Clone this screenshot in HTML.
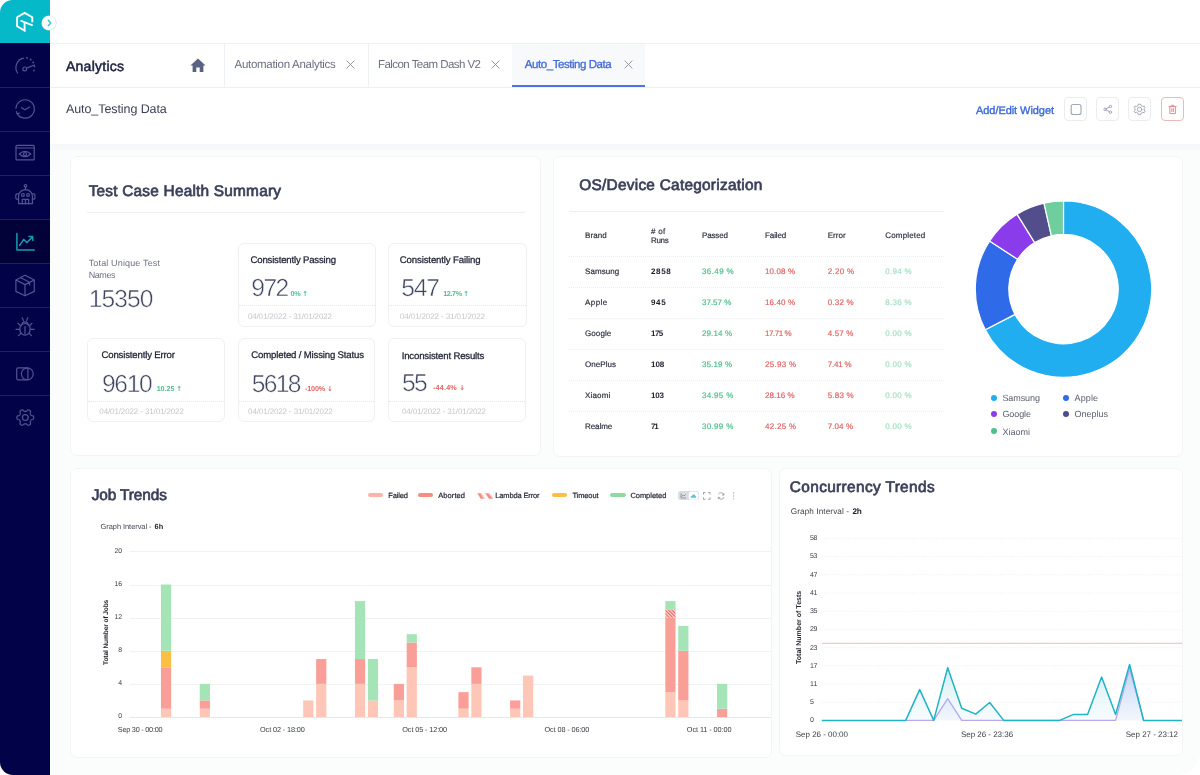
<!DOCTYPE html>
<html lang="en"><head><meta charset="utf-8"><title>Analytics - Auto_Testing Data</title>
<style>
*{box-sizing:border-box;margin:0;padding:0}
html,body{width:1200px;height:775px;overflow:hidden;background:#fff;font-family:"Liberation Sans",Arial,sans-serif;text-rendering:geometricPrecision}
.abs{position:absolute}
.t{position:absolute;white-space:nowrap;line-height:1}
.side{position:absolute;left:0;top:0;width:50px;height:775px;background:linear-gradient(#06b9c9 0,#06b9c9 43px,#020248 43px,#020248 100%);border-radius:12.5px 0 0 13px;overflow:hidden}
.side .brand{position:absolute;left:0;top:0;width:50px;height:43px}
.side .active{position:absolute;left:0;width:50px;height:43px;background:#020239}
.side .sep{position:absolute;left:0;width:50px;height:1px;background:#1f1f64}
.side .ico{position:absolute;left:0;top:0}
.toggle{position:absolute;left:42.2px;top:15.6px;width:14px;height:14px;border-radius:50%;background:#fff;box-shadow:0 0 0 0.6px #bfe6e6}
.top{position:absolute;left:50px;top:0;width:1150px;height:44px;border-bottom:1px solid #eff2f4}
.tabs{position:absolute;left:50px;top:44px;width:1150px;height:44px;border-bottom:1px solid #eef1f3}
.vsep{position:absolute;width:1px;height:43px;background:#eef1f3}
.tabactive{position:absolute;width:133px;height:43px;background:#f7f9fb;border-bottom:2.4px solid #4a74e8}
.sub{position:absolute;left:50px;top:88px;width:1150px;height:56px}
.ibtn{position:absolute;width:23px;height:24px;border:1px solid #eaecef;border-radius:4px;background:#fff}
.ibtn.red{border-color:#f1b6b6}
.ibtn svg{position:absolute;left:-1px;top:-1px}
.main{position:absolute;left:50px;top:144px;width:1150px;height:631px;background:#fbfcfc;border-radius:0 0 22px 0}
.band{position:absolute;left:50px;top:144px;width:1150px;height:6px;background:#f6f8f9}
.card{position:absolute;background:#fff;border:1px solid #f2f5f6;border-radius:7px}
.mini{position:absolute;background:#fff;border:1px solid #eef0f2;border-radius:6px}
.hr{position:absolute;height:1px;background:#eceff1}
.dot{position:absolute;height:0;border-top:1px dotted #e4e7eb}
.dot2{position:absolute;height:0;border-top:1px dotted #eceff1}
.ar{font-family:"DejaVu Sans",sans-serif;font-weight:bold;font-size:0.95em}
.pill{position:absolute;width:15.3px;height:4px;border-radius:2px}
.tgl{position:absolute;width:21px;height:9.5px;border-radius:2.5px;background:#d9dce1}
.tgl svg{position:absolute;left:0;top:0}
.ld{position:absolute;width:6px;height:6px;border-radius:50%}
</style></head>
<body>

<nav class="side">
  <div class="brand"></div>
  <div class="active" style="top:220px"></div>
  <div class="sep" style="top:87px"></div><div class="sep" style="top:131px"></div><div class="sep" style="top:175px"></div><div class="sep" style="top:219px"></div><div class="sep" style="top:263px"></div><div class="sep" style="top:307px"></div><div class="sep" style="top:351px"></div><div class="sep" style="top:395px"></div>
  <svg class="ico" width="50" height="775" viewBox="0 0 50 775" fill="none" stroke="#535392" stroke-width="1.2" stroke-linecap="round" stroke-linejoin="round">
    <!-- logo -->
    <g stroke="#fff" stroke-width="1.9" stroke-linecap="butt" stroke-linejoin="miter">
      <path d="M32.3 22.2 V17.3 L24.6 12.9 L17.1 17.3 V26.2 L24.6 30.5 V22"/>
      <path d="M32 25.1 L21.2 20.9" stroke-linecap="round"/>
    </g>
    <!-- gauge -->
    <path d="M17.6 73 A9.6 9.6 0 0 1 23.6 58.2"/>
    <path d="M26.7 57.8 A9.6 9.6 0 0 1 32.9 72.6" stroke-dasharray="0.6 3.4" stroke-width="1.5"/>
    <circle cx="24.7" cy="68.9" r="1.9"/><path d="M26.6 68.1 L34.4 65"/>
    <!-- clock -->
    <path d="M17.2 113.6 A9.2 9.2 0 1 0 16 108.2"/>
    <path d="M16.4 111.6 L17.3 114 L19.6 113"/>
    <path d="M21.3 107.6 L24.8 109.7 L29.6 107"/>
    <!-- eye window -->
    <rect x="16" y="145.3" width="18.2" height="14.6" rx="1"/><path d="M16 148 H34.2"/>
    <path d="M19.2 154 Q25 148.8 30.8 154 Q25 159.2 19.2 154Z"/><circle cx="25" cy="154" r="1.5"/>
    <!-- robot -->
    <circle cx="25.5" cy="185.8" r="1.3"/><path d="M25.5 187.1 V189.7"/>
    <path d="M18.6 203.7 V196 A6.85 6.3 0 0 1 32.4 196 V203.7 Z"/>
    <path d="M18.6 193.8 H17 A1.2 1.2 0 0 0 15.8 195 V198 A1.2 1.2 0 0 0 17 199.2 H18.6 M32.4 193.8 H33.7 A1.2 1.2 0 0 1 34.9 195 V198 A1.2 1.2 0 0 1 33.7 199.2 H32.4"/>
    <circle cx="22.9" cy="194.9" r="1.4"/><circle cx="28" cy="194.9" r="1.4"/>
    <path d="M22.3 203.7 V199.4 H28.6 V203.7 M25.45 199.4 V203.7"/>
    <!-- analytics (active) -->
    <g stroke="#1b9bb0" stroke-width="1.5"><path d="M16.9 233.4 V250 H34.3"/><path d="M19.6 245.4 L23.8 239.4 L26.9 242.6 L32.4 236.9 M28.9 236.4 L32.6 236.6 L32.9 240.5"/></g>
    <!-- box -->
    <path d="M25 275.2 L34.3 280 V291.4 L25 295.8 L15.9 291.4 V280 Z M15.9 280 L25 284.6 L34.3 280 M25 284.6 V295.8 M20.3 277.5 L29.6 282.3 V285"/>
    <!-- bug -->
    <ellipse cx="25" cy="329.3" rx="5.2" ry="5.8"/><path d="M21.8 324.6 A3.3 3.6 0 0 1 28.2 324.6 M23.3 320.6 L22.2 317.8 M26.7 320.6 L27.8 317.8 M16 329.3 H19.8 M30.2 329.3 H34.2 M18 323.3 L20.7 325.7 M32 323.3 L29.3 325.7 M18.5 335.6 L21 333.3 M31.5 335.6 L29 333.3 M25 326.4 V333.8"/>
    <!-- shapes -->
    <rect x="16.7" y="367.9" width="11.2" height="11.9" rx="1.2"/><circle cx="27.3" cy="373.85" r="5.95"/>
    <!-- gear -->
    <path d="M33.70 417.60 L33.67 418.33 L33.46 419.04 L32.35 419.49 L31.23 419.76 L30.92 420.22 L30.67 420.70 L30.38 421.16 L30.13 421.66 L30.46 422.76 L30.63 423.95 L30.12 424.48 L29.50 424.87 L28.85 425.21 L28.14 425.39 L27.19 424.65 L26.40 423.81 L25.84 423.78 L25.30 423.80 L24.76 423.78 L24.20 423.81 L23.41 424.65 L22.46 425.39 L21.75 425.21 L21.10 424.87 L20.48 424.48 L19.97 423.95 L20.14 422.76 L20.47 421.66 L20.22 421.16 L19.93 420.70 L19.68 420.22 L19.37 419.76 L18.25 419.49 L17.14 419.04 L16.93 418.33 L16.90 417.60 L16.93 416.87 L17.14 416.16 L18.25 415.71 L19.37 415.44 L19.68 414.98 L19.93 414.50 L20.22 414.04 L20.47 413.54 L20.14 412.44 L19.97 411.25 L20.48 410.72 L21.10 410.33 L21.75 409.99 L22.46 409.81 L23.41 410.55 L24.20 411.39 L24.76 411.42 L25.30 411.40 L25.84 411.42 L26.40 411.39 L27.19 410.55 L28.14 409.81 L28.85 409.99 L29.50 410.33 L30.12 410.72 L30.63 411.25 L30.46 412.44 L30.13 413.54 L30.38 414.04 L30.67 414.50 L30.92 414.98 L31.23 415.44 L32.35 415.71 L33.46 416.16 L33.67 416.87Z"/><circle cx="25.3" cy="417.6" r="2.9"/>
  </svg>
</nav>
<div class="toggle"><svg width="14" height="14" viewBox="0 0 14 14" fill="none" stroke="#3fc1cf" stroke-width="1.5" stroke-linecap="round" stroke-linejoin="round"><path d="M6.3 4.3 L8.7 7 L6.3 9.7"/></svg></div>
<header class="top"></header>
<div class="tabs"><span class="t" style="left:16.00px;top:15.00px;font-size:14px;color:#1a1f3c;-webkit-text-stroke:0.5px #1a1f3c;letter-spacing:0.246px;">Analytics</span><svg class="abs" style="left:139.50px;top:14.00px" width="16" height="15" viewBox="0 0 16 15"><path fill="#5c6284" d="M8 0.6 L15.6 7.4 H13.4 V14 H9.7 V9.6 H6.3 V14 H2.6 V7.4 H0.4 Z"/></svg><div class="vsep" style="left:174.00px;top:0.00px"></div><div class="vsep" style="left:317.50px;top:0.00px"></div><div class="tabactive" style="left:462.00px;top:0.00px"></div><span class="t" style="left:184.50px;top:16.00px;font-size:11.5px;color:#6b7080;letter-spacing:-0.288px;">Automation Analytics</span><svg class="abs" style="left:295.50px;top:16.10px" width="9" height="9" viewBox="0 0 9 9" stroke="#8a8f9c" stroke-width="0.9" fill="none"><path d="M0.6 0.6 L8.4 8.4 M8.4 0.6 L0.6 8.4"/></svg><span class="t" style="left:328.00px;top:16.00px;font-size:11.5px;color:#6b7080;letter-spacing:-0.552px;">Falcon Team Dash V2</span><svg class="abs" style="left:441.40px;top:16.10px" width="9" height="9" viewBox="0 0 9 9" stroke="#8a8f9c" stroke-width="0.9" fill="none"><path d="M0.6 0.6 L8.4 8.4 M8.4 0.6 L0.6 8.4"/></svg><span class="t" style="left:474.80px;top:16.00px;font-size:11.5px;color:#3f6ad8;-webkit-text-stroke:0.3px #3f6ad8;letter-spacing:-0.443px;">Auto_Testing Data</span><svg class="abs" style="left:573.50px;top:16.10px" width="9" height="9" viewBox="0 0 9 9" stroke="#8a8f9c" stroke-width="0.9" fill="none"><path d="M0.6 0.6 L8.4 8.4 M8.4 0.6 L0.6 8.4"/></svg></div>
<div class="sub"><span class="t" style="left:16.00px;top:15.00px;font-size:12.5px;color:#3a3f55;letter-spacing:-0.085px;">Auto_Testing Data</span><span class="t" style="left:926.00px;top:18.00px;font-size:11px;color:#3b68d9;-webkit-text-stroke:0.35px #3b68d9;letter-spacing:-0.062px;">Add/Edit Widget</span><div class="ibtn" style="left:1014.00px;top:9.00px"><svg width="23" height="24" viewBox="0 0 23 24" fill="none" stroke="#a2a7b5" stroke-width="1" stroke-linecap="round" stroke-linejoin="round"><rect x="7.2" y="7.5" width="9.8" height="10" rx="2" stroke-width="1.15"/></svg></div><div class="ibtn" style="left:1046.00px;top:9.00px"><svg width="23" height="24" viewBox="0 0 23 24" fill="none" stroke="#a2a7b5" stroke-width="1" stroke-linecap="round" stroke-linejoin="round"><circle cx="9.1" cy="12.3" r="1.25"/><circle cx="14.4" cy="9.5" r="1.25"/><circle cx="14.4" cy="15.2" r="1.25"/><path d="M10.2 11.7 L13.3 10.1 M10.2 12.9 L13.3 14.6"/></svg></div><div class="ibtn" style="left:1077.50px;top:9.00px"><svg width="23" height="24" viewBox="0 0 23 24" fill="none" stroke="#a2a7b5" stroke-width="1" stroke-linecap="round" stroke-linejoin="round"><circle cx="11.6" cy="12.4" r="2.2"/><path d="M11.6 7.2 l1.25 0.2 0.5 1.35 1.35 0.75 1.45 -0.4 0.95 1.45 -0.95 1.15 0 1.4 0.95 1.15 -0.95 1.45 -1.45 -0.4 -1.35 0.75 -0.5 1.35 -1.25 0.2 -1.25 -0.2 -0.5 -1.35 -1.35 -0.75 -1.45 0.4 -0.95 -1.45 0.95 -1.15 0 -1.4 -0.95 -1.15 0.95 -1.45 1.45 0.4 1.35 -0.75 0.5 -1.35 z"/></svg></div><div class="ibtn red" style="left:1111.00px;top:9.00px"><svg width="23" height="24" viewBox="0 0 23 24" fill="none" stroke="#e78a8a" stroke-width="1" stroke-linecap="round" stroke-linejoin="round"><path d="M8 9.6 H15.2 M10.3 9.4 V8.3 H12.9 V9.4 M8.8 9.8 V16.6 H14.4 V9.8 M10.8 11.6 V14.6 M12.4 11.6 V14.6"/></svg></div></div><div class="main"></div><div class="band"></div><section class="card" style="left:70.00px;top:156.00px;width:471px;height:300px"><span class="t" style="left:17.70px;top:27.00px;font-size:15.4px;color:#3a3f59;-webkit-text-stroke:0.7px #3a3f59;letter-spacing:0.216px;">Test Case Health Summary</span><div class="hr" style="left:15.50px;top:55.00px;width:438px"></div><span class="t" style="left:17.70px;top:102.00px;font-size:9px;color:#6e7382;letter-spacing:0.151px;">Total Unique Test</span><span class="t" style="left:17.70px;top:114.00px;font-size:9px;color:#6e7382;letter-spacing:-0.429px;">Names</span><span class="t" style="left:17.70px;top:131.00px;font-size:24.6px;color:#3f4460;letter-spacing:-0.898px;-webkit-text-stroke:0.5px #fff;">15350</span><div class="mini" style="left:166.50px;top:85.70px;width:138.7px;height:83.9px"><span class="t" style="left:12.00px;top:12.30px;font-size:9.6px;color:#1f2333;-webkit-text-stroke:0.28px #1f2333;letter-spacing:-0.188px;">Consistently Passing</span><span class="t" style="left:12.80px;top:33.30px;font-size:24.6px;color:#3f4460;letter-spacing:-1.573px;-webkit-text-stroke:0.5px #fff;">972</span><span class="t" style="left:52.00px;top:46.30px;font-size:7.2px;color:#4fc08d;font-weight:bold;letter-spacing:-0.208px;">0% <b class="ar">&#8593;</b></span><div class="dot" style="left:0.00px;top:61.60px;width:136.7px"></div><span class="t" style="left:9.40px;top:69.30px;font-size:8px;color:#c3c6cc;letter-spacing:-0.140px;">04/01/2022 - 31/01/2022</span></div><div class="mini" style="left:317.40px;top:85.70px;width:138.6px;height:83.9px"><span class="t" style="left:10.40px;top:12.30px;font-size:9.6px;color:#1f2333;-webkit-text-stroke:0.28px #1f2333;letter-spacing:-0.126px;">Consistently Failing</span><span class="t" style="left:11.80px;top:33.30px;font-size:24.6px;color:#3f4460;letter-spacing:-1.123px;-webkit-text-stroke:0.5px #fff;">547</span><span class="t" style="left:53.90px;top:46.30px;font-size:7.2px;color:#4fc08d;font-weight:bold;letter-spacing:-0.404px;">12.7% <b class="ar">&#8593;</b></span><div class="dot" style="left:0.00px;top:61.60px;width:136.6px"></div><span class="t" style="left:10.40px;top:69.30px;font-size:8px;color:#c3c6cc;letter-spacing:-0.090px;">04/01/2022 - 31/01/2022</span></div><div class="mini" style="left:16.30px;top:181.30px;width:137.4px;height:84.1px"><span class="t" style="left:13.20px;top:11.70px;font-size:9.6px;color:#1f2333;-webkit-text-stroke:0.28px #1f2333;letter-spacing:-0.162px;">Consistently Error</span><span class="t" style="left:13.70px;top:33.70px;font-size:24.6px;color:#3f4460;letter-spacing:-1.340px;-webkit-text-stroke:0.5px #fff;">9610</span><span class="t" style="left:68.40px;top:45.70px;font-size:7.2px;color:#4fc08d;font-weight:bold;letter-spacing:-0.070px;">10.25 <b class="ar">&#8593;</b></span><div class="dot" style="left:0.00px;top:61.70px;width:135.4px"></div><span class="t" style="left:11.00px;top:68.70px;font-size:8px;color:#c3c6cc;letter-spacing:-0.118px;">04/01/2022 - 31/01/2022</span></div><div class="mini" style="left:166.50px;top:181.30px;width:137.6px;height:84.1px"><span class="t" style="left:12.80px;top:11.70px;font-size:9.6px;color:#1f2333;-webkit-text-stroke:0.28px #1f2333;letter-spacing:-0.163px;">Completed / Missing Status</span><span class="t" style="left:13.20px;top:33.70px;font-size:24.6px;color:#3f4460;letter-spacing:-1.640px;-webkit-text-stroke:0.5px #fff;">5618</span><span class="t" style="left:66.50px;top:45.70px;font-size:7.2px;color:#e36464;font-weight:bold;letter-spacing:-0.136px;">-100% <b class="ar">&#8595;</b></span><div class="dot" style="left:0.00px;top:61.70px;width:135.6px"></div><span class="t" style="left:9.60px;top:68.70px;font-size:8px;color:#c3c6cc;letter-spacing:-0.118px;">04/01/2022 - 31/01/2022</span></div><div class="mini" style="left:317.00px;top:181.30px;width:137.9px;height:84.1px"><span class="t" style="left:12.70px;top:12.70px;font-size:9.6px;color:#1f2333;-webkit-text-stroke:0.28px #1f2333;letter-spacing:-0.166px;">Inconsistent Results</span><span class="t" style="left:13.00px;top:32.70px;font-size:24.6px;color:#3f4460;letter-spacing:-1.659px;-webkit-text-stroke:0.5px #fff;">55</span><span class="t" style="left:44.00px;top:44.70px;font-size:7.2px;color:#e36464;font-weight:bold;letter-spacing:0.198px;">-44.4% <b class="ar">&#8595;</b></span><div class="dot" style="left:0.00px;top:61.70px;width:135.9px"></div><span class="t" style="left:13.00px;top:68.70px;font-size:8px;color:#c3c6cc;letter-spacing:-0.145px;">04/01/2022 - 31/01/2022</span></div></section><section class="card" style="left:553.00px;top:156.00px;width:630px;height:301px"><span class="t" style="left:25.30px;top:21.00px;font-size:15.4px;color:#3a3f59;-webkit-text-stroke:0.7px #3a3f59;letter-spacing:0.257px;">OS/Device Categorization</span><div class="hr" style="left:15.30px;top:53.50px;width:375px"></div><span class="t" style="left:31.00px;top:75.00px;font-size:8px;color:#2b2f3f;-webkit-text-stroke:0.18px #2b2f3f;letter-spacing:0.085px;">Brand</span><span class="t" style="left:97.00px;top:71.00px;font-size:8px;color:#2b2f3f;-webkit-text-stroke:0.18px #2b2f3f;letter-spacing:0.319px;"># of</span><span class="t" style="left:97.00px;top:80.00px;font-size:8px;color:#2b2f3f;-webkit-text-stroke:0.18px #2b2f3f;letter-spacing:-0.329px;">Runs</span><span class="t" style="left:148.00px;top:75.00px;font-size:8px;color:#2b2f3f;-webkit-text-stroke:0.18px #2b2f3f;letter-spacing:-0.138px;">Passed</span><span class="t" style="left:211.00px;top:75.00px;font-size:8px;color:#2b2f3f;-webkit-text-stroke:0.18px #2b2f3f;letter-spacing:-0.099px;">Failed</span><span class="t" style="left:273.70px;top:75.00px;font-size:8px;color:#2b2f3f;-webkit-text-stroke:0.18px #2b2f3f;letter-spacing:0.055px;">Error</span><span class="t" style="left:331.30px;top:75.00px;font-size:8px;color:#2b2f3f;-webkit-text-stroke:0.18px #2b2f3f;letter-spacing:0.164px;">Completed</span><div class="dot2" style="left:15.30px;top:99.00px;width:375px"></div><span class="t" style="left:31.00px;top:111.00px;font-size:8px;color:#2b2f3f;-webkit-text-stroke:0.18px #2b2f3f;letter-spacing:0.084px;">Samsung</span><span class="t" style="left:97.00px;top:111.00px;font-size:8px;color:#1c1f2b;font-weight:bold;letter-spacing:0.634px;">2858</span><span class="t" style="left:148.00px;top:111.00px;font-size:8px;color:#4fc08d;-webkit-text-stroke:0.2px #4fc08d;letter-spacing:0.390px;">36.49 %</span><span class="t" style="left:211.00px;top:111.00px;font-size:8px;color:#e36464;-webkit-text-stroke:0.2px #e36464;letter-spacing:0.107px;">10.08 %</span><span class="t" style="left:273.70px;top:111.00px;font-size:8px;color:#e36464;-webkit-text-stroke:0.2px #e36464;letter-spacing:0.279px;">2.20 %</span><span class="t" style="left:331.30px;top:111.00px;font-size:8px;color:#a6dfc1;-webkit-text-stroke:0.2px #a6dfc1;letter-spacing:0.299px;">0.94 %</span><div class="dot2" style="left:15.30px;top:130.00px;width:375px"></div><span class="t" style="left:31.00px;top:142.00px;font-size:8px;color:#2b2f3f;-webkit-text-stroke:0.18px #2b2f3f;letter-spacing:0.458px;">Apple</span><span class="t" style="left:97.00px;top:142.00px;font-size:8px;color:#1c1f2b;font-weight:bold;letter-spacing:0.670px;">945</span><span class="t" style="left:148.00px;top:142.00px;font-size:8px;color:#4fc08d;-webkit-text-stroke:0.2px #4fc08d;letter-spacing:-0.010px;">37.57 %</span><span class="t" style="left:211.00px;top:142.00px;font-size:8px;color:#e36464;-webkit-text-stroke:0.2px #e36464;letter-spacing:0.107px;">16.40 %</span><span class="t" style="left:273.70px;top:142.00px;font-size:8px;color:#e36464;-webkit-text-stroke:0.2px #e36464;letter-spacing:0.219px;">0.32 %</span><span class="t" style="left:331.30px;top:142.00px;font-size:8px;color:#a6dfc1;-webkit-text-stroke:0.2px #a6dfc1;letter-spacing:0.299px;">8.36 %</span><div class="dot2" style="left:15.30px;top:161.00px;width:375px"></div><span class="t" style="left:31.00px;top:173.00px;font-size:8px;color:#2b2f3f;-webkit-text-stroke:0.18px #2b2f3f;letter-spacing:0.101px;">Google</span><span class="t" style="left:97.00px;top:173.00px;font-size:8px;color:#1c1f2b;font-weight:bold;letter-spacing:-0.530px;">175</span><span class="t" style="left:148.00px;top:173.00px;font-size:8px;color:#4fc08d;-webkit-text-stroke:0.2px #4fc08d;letter-spacing:0.107px;">29.14 %</span><span class="t" style="left:211.00px;top:173.00px;font-size:8px;color:#e36464;-webkit-text-stroke:0.2px #e36464;letter-spacing:-0.443px;">17.71 %</span><span class="t" style="left:273.70px;top:173.00px;font-size:8px;color:#e36464;-webkit-text-stroke:0.2px #e36464;letter-spacing:0.139px;">4.57 %</span><span class="t" style="left:331.30px;top:173.00px;font-size:8px;color:#a6dfc1;-webkit-text-stroke:0.2px #a6dfc1;letter-spacing:0.299px;">0.00 %</span><div class="dot2" style="left:15.30px;top:192.00px;width:375px"></div><span class="t" style="left:31.00px;top:204.00px;font-size:8px;color:#2b2f3f;-webkit-text-stroke:0.18px #2b2f3f;letter-spacing:0.052px;">OnePlus</span><span class="t" style="left:97.00px;top:204.00px;font-size:8px;color:#1c1f2b;font-weight:bold;letter-spacing:-0.030px;">108</span><span class="t" style="left:148.00px;top:204.00px;font-size:8px;color:#4fc08d;-webkit-text-stroke:0.2px #4fc08d;letter-spacing:0.107px;">35.19 %</span><span class="t" style="left:211.00px;top:204.00px;font-size:8px;color:#e36464;-webkit-text-stroke:0.2px #e36464;letter-spacing:0.273px;">25.93 %</span><span class="t" style="left:273.70px;top:204.00px;font-size:8px;color:#e36464;-webkit-text-stroke:0.2px #e36464;letter-spacing:-0.181px;">7.41 %</span><span class="t" style="left:331.30px;top:204.00px;font-size:8px;color:#a6dfc1;-webkit-text-stroke:0.2px #a6dfc1;letter-spacing:0.299px;">0.00 %</span><div class="dot2" style="left:15.30px;top:223.00px;width:375px"></div><span class="t" style="left:31.00px;top:235.00px;font-size:8px;color:#2b2f3f;-webkit-text-stroke:0.18px #2b2f3f;letter-spacing:0.169px;">Xiaomi</span><span class="t" style="left:97.00px;top:235.00px;font-size:8px;color:#1c1f2b;font-weight:bold;letter-spacing:-0.180px;">103</span><span class="t" style="left:148.00px;top:235.00px;font-size:8px;color:#4fc08d;-webkit-text-stroke:0.2px #4fc08d;letter-spacing:0.323px;">34.95 %</span><span class="t" style="left:211.00px;top:235.00px;font-size:8px;color:#e36464;-webkit-text-stroke:0.2px #e36464;letter-spacing:0.057px;">28.16 %</span><span class="t" style="left:273.70px;top:235.00px;font-size:8px;color:#e36464;-webkit-text-stroke:0.2px #e36464;letter-spacing:0.219px;">5.83 %</span><span class="t" style="left:331.30px;top:235.00px;font-size:8px;color:#a6dfc1;-webkit-text-stroke:0.2px #a6dfc1;letter-spacing:0.299px;">0.00 %</span><div class="dot2" style="left:15.30px;top:254.00px;width:375px"></div><span class="t" style="left:31.00px;top:266.00px;font-size:8px;color:#2b2f3f;-webkit-text-stroke:0.18px #2b2f3f;letter-spacing:-0.056px;">Realme</span><span class="t" style="left:97.00px;top:266.00px;font-size:8px;color:#1c1f2b;font-weight:bold;letter-spacing:-1.206px;">71</span><span class="t" style="left:148.00px;top:266.00px;font-size:8px;color:#4fc08d;-webkit-text-stroke:0.2px #4fc08d;letter-spacing:0.323px;">30.99 %</span><span class="t" style="left:211.00px;top:266.00px;font-size:8px;color:#e36464;-webkit-text-stroke:0.2px #e36464;letter-spacing:0.273px;">42.25 %</span><span class="t" style="left:273.70px;top:266.00px;font-size:8px;color:#e36464;-webkit-text-stroke:0.2px #e36464;letter-spacing:0.079px;">7.04 %</span><span class="t" style="left:331.30px;top:266.00px;font-size:8px;color:#a6dfc1;-webkit-text-stroke:0.2px #a6dfc1;letter-spacing:0.299px;">0.00 %</span><svg class="abs" style="left:420.00px;top:42.00px" width="180" height="180" viewBox="974 199 180 180"><path d="M1063.50 200.90 A88.2 88.2 0 1 1 985.27 329.83 L1014.98 314.36 A54.7 54.7 0 1 0 1063.50 234.40 Z" fill="#20aef0" stroke="#fff" stroke-width="1.2" stroke-linejoin="round"/><path d="M985.27 329.83 A88.2 88.2 0 0 1 989.53 241.06 L1017.62 259.31 A54.7 54.7 0 0 0 1014.98 314.36 Z" fill="#2f6be8" stroke="#fff" stroke-width="1.2" stroke-linejoin="round"/><path d="M989.53 241.06 A88.2 88.2 0 0 1 1017.02 214.14 L1034.68 242.61 A54.7 54.7 0 0 0 1017.62 259.31 Z" fill="#8b3cea" stroke="#fff" stroke-width="1.2" stroke-linejoin="round"/><path d="M1017.02 214.14 A88.2 88.2 0 0 1 1043.96 203.09 L1051.38 235.76 A54.7 54.7 0 0 0 1034.68 242.61 Z" fill="#524e8c" stroke="#fff" stroke-width="1.2" stroke-linejoin="round"/><path d="M1043.96 203.09 A88.2 88.2 0 0 1 1063.50 200.90 L1063.50 234.40 A54.7 54.7 0 0 0 1051.38 235.76 Z" fill="#6fce9d" stroke="#fff" stroke-width="1.2" stroke-linejoin="round"/></svg><i class="ld" style="left:436.60px;top:237.60px;background:#20aef0"></i><span class="t" style="left:448.40px;top:237.00px;font-size:9px;color:#5b6070;letter-spacing:-0.072px;">Samsung</span><i class="ld" style="left:508.60px;top:237.60px;background:#2f6be8"></i><span class="t" style="left:520.60px;top:237.00px;font-size:9px;color:#5b6070;letter-spacing:0.092px;">Apple</span><i class="ld" style="left:436.60px;top:253.60px;background:#8b3cea"></i><span class="t" style="left:448.40px;top:253.00px;font-size:9px;color:#5b6070;letter-spacing:-0.086px;">Google</span><i class="ld" style="left:508.60px;top:253.60px;background:#4e4b8d"></i><span class="t" style="left:520.60px;top:253.00px;font-size:9px;color:#5b6070;letter-spacing:-0.022px;">Oneplus</span><i class="ld" style="left:436.60px;top:271.40px;background:#4fc08d"></i><span class="t" style="left:448.40px;top:271.00px;font-size:9px;color:#5b6070;letter-spacing:0.017px;">Xiaomi</span></section><section class="card" style="left:70.00px;top:468.00px;width:702px;height:290px"><span class="t" style="left:20.70px;top:19.00px;font-size:15.4px;color:#3a3f59;-webkit-text-stroke:0.7px #3a3f59;letter-spacing:-0.106px;">Job Trends</span><span class="t" style="left:29.60px;top:54.00px;font-size:7.4px;color:#3f4350;letter-spacing:-0.031px;">Graph Interval -</span><span class="t" style="left:83.60px;top:54.00px;font-size:7.4px;color:#1c1f2b;font-weight:bold;letter-spacing:0.075px;">6h</span><i class="pill" style="left:297.00px;top:24.20px;background:#fbb5a8"></i><span class="t" style="left:317.30px;top:23.00px;font-size:7.5px;color:#1f2333;-webkit-text-stroke:0.2px #1f2333;letter-spacing:-0.148px;">Failed</span><i class="pill" style="left:346.50px;top:24.20px;background:#f98b83"></i><span class="t" style="left:367.30px;top:23.00px;font-size:7.5px;color:#1f2333;-webkit-text-stroke:0.2px #1f2333;letter-spacing:0.070px;">Aborted</span><svg class="abs" style="left:405.50px;top:23.50px" width="17" height="6" viewBox="0 0 17 6"><path d="M0.3 0.3 H3.6 L7 5.7 H3.7 Z M8.2 0.3 H11.5 L15.8 5.7 H12 Z" fill="#f58f86"/><path d="M3.6 0.3 H5 L8.4 5.7 H7 Z M11.5 0.3 H13 L16.9 5.7 H15.8 Z" fill="#fbd0c9"/></svg><span class="t" style="left:424.30px;top:23.00px;font-size:7.5px;color:#1f2333;-webkit-text-stroke:0.2px #1f2333;letter-spacing:-0.151px;">Lambda Error</span><i class="pill" style="left:480.60px;top:24.20px;background:#fbbf45"></i><span class="t" style="left:501.40px;top:23.00px;font-size:7.5px;color:#1f2333;-webkit-text-stroke:0.2px #1f2333;letter-spacing:-0.105px;">Timeout</span><i class="pill" style="left:539.40px;top:24.20px;background:#8ddba3"></i><span class="t" style="left:559.40px;top:23.00px;font-size:7.5px;color:#1f2333;-webkit-text-stroke:0.2px #1f2333;letter-spacing:-0.035px;">Completed</span><div class="tgl" style="left:607.40px;top:21.80px"><svg width="21" height="9.5" viewBox="0 0 21 9.5" fill="none"><rect x="10.8" y="0.8" width="9.5" height="7.9" rx="2.2" fill="#fff"/><path d="M3 2.3 V7 H8 M3.4 5.6 L5 4.2 L6 5 L7.8 3.2" stroke="#7d8290" stroke-width="0.7"/><path d="M12.6 6.6 Q12.4 5 14 4.8 Q14.6 3.2 16.2 3.6 Q17.4 3.9 17.4 5 Q18.6 5.2 18.4 6.2 Q18.2 6.8 17.4 6.8 H13.4 Q12.8 6.8 12.6 6.6Z" fill="#57c6d6"/></svg></div><svg class="abs" style="left:632.30px;top:22.50px" width="34" height="8" viewBox="0 0 34 8" fill="none" stroke="#8e94a2" stroke-width="0.9"><path d="M0.5 2.4 V0.5 H2.4 M5.2 0.5 H7.1 V2.4 M7.1 5.4 V7.3 H5.2 M2.4 7.3 H0.5 V5.4"/><path d="M15.3 2.2 A3 3 0 0 1 20.8 3 M21 5 A3 3 0 0 1 15.4 5.6 M20.9 1.2 V3.1 H19 M15.3 7.2 V5.4 H17.2" stroke-width="0.8"/><path d="M30.6 0.6 V1.5 M30.6 3.5 V4.4 M30.6 6.4 V7.3" stroke-width="1.1"/></svg><svg class="abs" style="left:0.00px;top:71.00px" width="700.0" height="185" viewBox="71 540 700.0 185"><defs><pattern id="lam" width="2.4" height="2.4" patternUnits="userSpaceOnUse" patternTransform="rotate(-45)"><rect width="2.4" height="2.4" fill="#fde3de"/><rect width="1.2" height="2.4" fill="#f0635a"/></pattern></defs><line x1="129.7" x2="771" y1="551.5" y2="551.5" stroke="#f0f3f4" stroke-width="1"/><line x1="129.7" x2="771" y1="585.5" y2="585.5" stroke="#f0f3f4" stroke-width="1"/><line x1="129.7" x2="771" y1="618.5" y2="618.5" stroke="#f0f3f4" stroke-width="1"/><line x1="129.7" x2="771" y1="651.5" y2="651.5" stroke="#f0f3f4" stroke-width="1"/><line x1="129.7" x2="771" y1="684.5" y2="684.5" stroke="#f0f3f4" stroke-width="1"/><line x1="129.7" x2="771" y1="717.5" y2="717.5" stroke="#e4e8ea" stroke-width="1"/><rect x="160.96" y="708.72" width="10.2" height="8.28" fill="#fdc6b6"/><rect x="160.96" y="667.32" width="10.2" height="41.40" fill="#fa9f97"/><rect x="160.96" y="650.76" width="10.2" height="16.56" fill="#fbbf45"/><rect x="160.96" y="584.52" width="10.2" height="66.24" fill="#a4e4b6"/><rect x="199.76" y="708.72" width="10.2" height="8.28" fill="#fdc6b6"/><rect x="199.76" y="700.44" width="10.2" height="8.28" fill="#fa9f97"/><rect x="199.76" y="683.88" width="10.2" height="16.56" fill="#a4e4b6"/><rect x="303.21" y="700.44" width="10.2" height="16.56" fill="#fdc6b6"/><rect x="316.15" y="683.88" width="10.2" height="33.12" fill="#fdc6b6"/><rect x="316.15" y="659.04" width="10.2" height="24.84" fill="#fa9f97"/><rect x="354.94" y="683.88" width="10.2" height="33.12" fill="#fdc6b6"/><rect x="354.94" y="659.04" width="10.2" height="24.84" fill="#fa9f97"/><rect x="354.94" y="601.08" width="10.2" height="57.96" fill="#a4e4b6"/><rect x="367.87" y="700.44" width="10.2" height="16.56" fill="#fdc6b6"/><rect x="367.87" y="659.04" width="10.2" height="41.40" fill="#a4e4b6"/><rect x="393.74" y="700.44" width="10.2" height="16.56" fill="#fdc6b6"/><rect x="393.74" y="683.88" width="10.2" height="16.56" fill="#fa9f97"/><rect x="406.67" y="667.32" width="10.2" height="49.68" fill="#fdc6b6"/><rect x="406.67" y="642.48" width="10.2" height="24.84" fill="#fa9f97"/><rect x="406.67" y="634.20" width="10.2" height="8.28" fill="#a4e4b6"/><rect x="458.40" y="708.72" width="10.2" height="8.28" fill="#fdc6b6"/><rect x="458.40" y="692.16" width="10.2" height="16.56" fill="#fa9f97"/><rect x="471.33" y="683.88" width="10.2" height="33.12" fill="#fdc6b6"/><rect x="471.33" y="667.32" width="10.2" height="16.56" fill="#fa9f97"/><rect x="510.12" y="708.72" width="10.2" height="8.28" fill="#fdc6b6"/><rect x="510.12" y="700.44" width="10.2" height="8.28" fill="#fa9f97"/><rect x="523.05" y="675.60" width="10.2" height="41.40" fill="#fdc6b6"/><rect x="665.30" y="692.16" width="10.2" height="24.84" fill="#fdc6b6"/><rect x="665.30" y="617.64" width="10.2" height="74.52" fill="#fa9f97"/><rect x="665.30" y="609.36" width="10.2" height="8.28" fill="url(#lam)"/><rect x="665.30" y="601.08" width="10.2" height="8.28" fill="#a4e4b6"/><rect x="678.24" y="700.44" width="10.2" height="16.56" fill="#fdc6b6"/><rect x="678.24" y="650.76" width="10.2" height="49.68" fill="#fa9f97"/><rect x="678.24" y="625.92" width="10.2" height="24.84" fill="#a4e4b6"/><rect x="717.03" y="708.72" width="10.2" height="8.28" fill="#fa9f97"/><rect x="717.03" y="683.88" width="10.2" height="24.84" fill="#a4e4b6"/></svg><span class="t" style="left:43.60px;top:80.00px;font-size:6.9px;color:#3a3d48;letter-spacing:-0.272px;">20</span><span class="t" style="left:43.60px;top:113.00px;font-size:6.9px;color:#3a3d48;letter-spacing:-0.272px;">16</span><span class="t" style="left:43.60px;top:146.00px;font-size:6.9px;color:#3a3d48;letter-spacing:-0.272px;">12</span><span class="t" style="left:47.20px;top:179.00px;font-size:6.9px;color:#3a3d48;letter-spacing:-0.044px;">8</span><span class="t" style="left:47.20px;top:212.00px;font-size:6.9px;color:#3a3d48;letter-spacing:-0.044px;">4</span><span class="t" style="left:47.20px;top:245.00px;font-size:6.9px;color:#3a3d48;letter-spacing:-0.044px;">0</span><span class="t" style="left:32.85px;top:195.55px;font-size:6.7px;color:#22252e;font-weight:bold;letter-spacing:-0.155px;transform:rotate(-90deg);transform-origin:0 0;">Total Number of Jobs</span><span class="t" style="left:46.80px;top:257.00px;font-size:7.3px;color:#3a3d48;letter-spacing:-0.237px;">Sep 30 - 00:00</span><span class="t" style="left:189.05px;top:257.00px;font-size:7.3px;color:#3a3d48;letter-spacing:-0.112px;">Oct 02 - 18:00</span><span class="t" style="left:331.30px;top:257.00px;font-size:7.3px;color:#3a3d48;letter-spacing:-0.112px;">Oct 05 - 12:00</span><span class="t" style="left:473.55px;top:257.00px;font-size:7.3px;color:#3a3d48;letter-spacing:-0.112px;">Oct 08 - 06:00</span><span class="t" style="left:615.80px;top:257.00px;font-size:7.3px;color:#3a3d48;letter-spacing:-0.069px;">Oct 11 - 00:00</span></section><section class="card" style="left:779.00px;top:468.00px;width:404px;height:288px;overflow:hidden"><span class="t" style="left:9.80px;top:11.00px;font-size:15.4px;color:#3a3f59;-webkit-text-stroke:0.7px #3a3f59;letter-spacing:0.366px;">Concurrency Trends</span><span class="t" style="left:10.80px;top:39.00px;font-size:8.2px;color:#3f4350;letter-spacing:0.087px;">Graph Interval -</span><span class="t" style="left:72.50px;top:39.00px;font-size:8.2px;color:#1c1f2b;font-weight:bold;letter-spacing:-0.362px;">2h</span><svg class="abs" style="left:0.00px;top:61.00px" width="402.0" height="200" viewBox="780 530 402.0 200"><defs><linearGradient id="gt" x1="0" y1="663.9" x2="0" y2="720.4" gradientUnits="userSpaceOnUse"><stop offset="0" stop-color="#bfe6ee" stop-opacity="0.75"/><stop offset="1" stop-color="#e8f6f9" stop-opacity="0.35"/></linearGradient><linearGradient id="gp" x1="0" y1="663.9" x2="0" y2="720.4" gradientUnits="userSpaceOnUse"><stop offset="0" stop-color="#b9c6f2" stop-opacity="0.8"/><stop offset="1" stop-color="#e6ebfb" stop-opacity="0.3"/></linearGradient></defs><line x1="821.8" x2="1183" y1="702.2" y2="702.2" stroke="#eff1f3" stroke-width="1" stroke-dasharray="1 1.2"/><line x1="821.8" x2="1183" y1="684.0" y2="684.0" stroke="#eff1f3" stroke-width="1" stroke-dasharray="1 1.2"/><line x1="821.8" x2="1183" y1="665.8" y2="665.8" stroke="#eff1f3" stroke-width="1" stroke-dasharray="1 1.2"/><line x1="821.8" x2="1183" y1="647.6" y2="647.6" stroke="#eff1f3" stroke-width="1" stroke-dasharray="1 1.2"/><line x1="821.8" x2="1183" y1="629.4" y2="629.4" stroke="#eff1f3" stroke-width="1" stroke-dasharray="1 1.2"/><line x1="821.8" x2="1183" y1="611.2" y2="611.2" stroke="#eff1f3" stroke-width="1" stroke-dasharray="1 1.2"/><line x1="821.8" x2="1183" y1="593.0" y2="593.0" stroke="#eff1f3" stroke-width="1" stroke-dasharray="1 1.2"/><line x1="821.8" x2="1183" y1="574.8" y2="574.8" stroke="#eff1f3" stroke-width="1" stroke-dasharray="1 1.2"/><line x1="821.8" x2="1183" y1="556.6" y2="556.6" stroke="#eff1f3" stroke-width="1" stroke-dasharray="1 1.2"/><line x1="821.8" x2="1183" y1="538.4" y2="538.4" stroke="#eff1f3" stroke-width="1" stroke-dasharray="1 1.2"/><line x1="821.8" x2="1183" y1="643.3" y2="643.3" stroke="#f3b9b9" stroke-width="1"/><polygon points="821.8,720.4 835.8,720.4 849.8,720.4 863.8,720.4 877.8,720.4 891.8,720.4 905.7,720.4 919.7,689.6 933.7,720.4 947.7,667.7 961.7,708.2 975.7,714.1 989.7,702.5 1003.7,720.4 1017.7,720.4 1031.6,720.4 1045.6,720.4 1059.6,720.4 1073.6,714.4 1087.6,714.4 1101.6,677.1 1115.6,714.4 1129.6,664.5 1143.6,720.4 1157.6,720.4 1171.5,720.4 1185.5,720.4 1183,720.4 821.8,720.4" fill="url(#gt)"/><polygon points="905.7,720.4 919.7,720.4 933.7,720.4 947.7,698.7 961.7,720.4 975.7,720.4 989.7,720.4 1003.7,720.4 1017.7,720.4 1031.6,720.4 1045.6,720.4 1059.6,720.4 1073.6,720.4 1087.6,720.4 1101.6,720.4 1115.6,720.4 1129.6,668.3 1143.6,720.4" fill="url(#gp)"/><polyline points="905.7,720.4 919.7,720.4 933.7,720.4 947.7,698.7 961.7,720.4 975.7,720.4 989.7,720.4 1003.7,720.4 1017.7,720.4 1031.6,720.4 1045.6,720.4 1059.6,720.4 1073.6,720.4 1087.6,720.4 1101.6,720.4 1115.6,720.4 1129.6,668.3 1143.6,720.4" fill="none" stroke="#b5a8f0" stroke-width="1.3" stroke-linejoin="round"/><polyline points="821.8,720.4 835.8,720.4 849.8,720.4 863.8,720.4 877.8,720.4 891.8,720.4 905.7,720.4 919.7,689.6 933.7,720.4 947.7,667.7 961.7,708.2 975.7,714.1 989.7,702.5 1003.7,720.4 1017.7,720.4 1031.6,720.4 1045.6,720.4 1059.6,720.4 1073.6,714.4 1087.6,714.4 1101.6,677.1 1115.6,714.4 1129.6,664.5 1143.6,720.4 1157.6,720.4 1171.5,720.4 1185.5,720.4" fill="none" stroke="#1fb3c4" stroke-width="1.5" stroke-linejoin="round"/></svg><span class="t" style="left:30.00px;top:248.00px;font-size:7px;color:#3a3d48;letter-spacing:-0.006px;">0</span><span class="t" style="left:30.00px;top:230.00px;font-size:7px;color:#3a3d48;letter-spacing:-0.006px;">5</span><span class="t" style="left:30.00px;top:212.00px;font-size:7px;color:#3a3d48;letter-spacing:0.019px;">11</span><span class="t" style="left:30.00px;top:194.00px;font-size:7px;color:#3a3d48;letter-spacing:-0.497px;">17</span><span class="t" style="left:30.00px;top:176.00px;font-size:7px;color:#3a3d48;letter-spacing:-0.497px;">23</span><span class="t" style="left:30.00px;top:157.00px;font-size:7px;color:#3a3d48;letter-spacing:-0.497px;">29</span><span class="t" style="left:30.00px;top:139.00px;font-size:7px;color:#3a3d48;letter-spacing:-0.497px;">35</span><span class="t" style="left:30.00px;top:121.00px;font-size:7px;color:#3a3d48;letter-spacing:-0.497px;">41</span><span class="t" style="left:30.00px;top:103.00px;font-size:7px;color:#3a3d48;letter-spacing:-0.497px;">47</span><span class="t" style="left:30.00px;top:84.00px;font-size:7px;color:#3a3d48;letter-spacing:-0.497px;">53</span><span class="t" style="left:30.00px;top:66.00px;font-size:7px;color:#3a3d48;letter-spacing:-0.497px;">58</span><span class="t" style="left:15.50px;top:195.00px;font-size:7px;color:#22252e;font-weight:bold;letter-spacing:0.017px;transform:rotate(-90deg);transform-origin:0 0;">Total Number of Tests</span><span class="t" style="left:15.80px;top:262.00px;font-size:8px;color:#3a3d48;letter-spacing:-0.022px;">Sep 26 - 00:00</span><span class="t" style="left:180.90px;top:262.00px;font-size:8px;color:#3a3d48;letter-spacing:-0.022px;">Sep 26 - 23:36</span><span class="t" style="left:345.80px;top:262.00px;font-size:8px;color:#3a3d48;letter-spacing:-0.022px;">Sep 27 - 23:12</span></section>
</body></html>
